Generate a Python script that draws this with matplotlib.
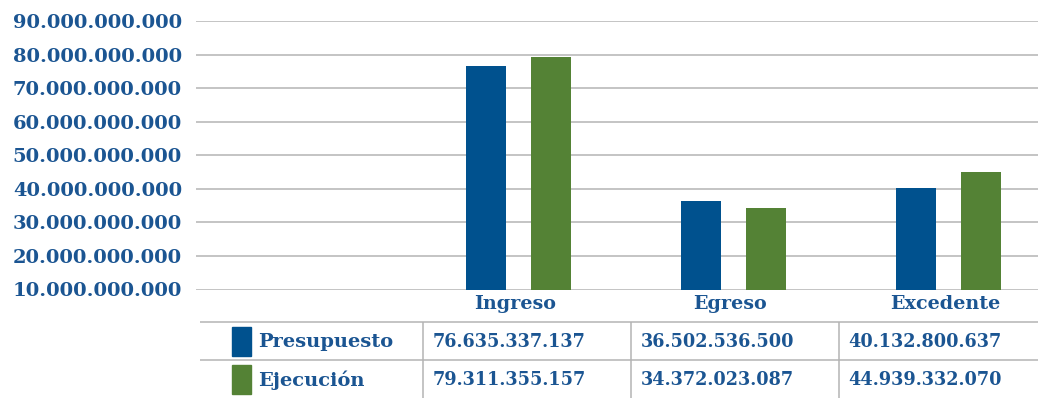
import numpy as np
import matplotlib
matplotlib.use('Agg')
import matplotlib.pyplot as plt
from matplotlib.patches import Rectangle

# data
categorias = ['Ingreso', 'Egreso', 'Excedente']
series = ['Presupuesto', 'Ejecución']
presupuesto = [76635337137, 36502536500, 40132800637]
ejecucion = [79311355157, 34372023087, 44939332070]
y_ticks = [10e9, 20e9, 30e9, 40e9, 50e9, 60e9, 70e9, 80e9, 90e9]

azul = '#00518e'
verde = '#548235'
texto = '#1b5592'
gris = '#b4b4b4'

plt.rcParams['font.family'] = ['DejaVu Serif']
plt.rcParams['font.weight'] = 'bold'

W, H = 1038, 398
fig = plt.figure(figsize=(W / 100, H / 100), dpi=100)

def miles(v):
    return f'{v:,.0f}'.replace(',', '.')

# chart area (first category slot is empty, last one runs past the right edge)
ax = fig.add_axes([196 / W, (H - 289.5) / H, 860 / W, (289.5 - 21) / H])
x = np.arange(1, len(categorias) + 1)
width = 0.186
off = 0.152
ax.bar(x - off, presupuesto, width, color=azul, zorder=3)
ax.bar(x + off, ejecucion, width, color=verde, zorder=3)
ax.set_xlim(-0.5, 3.5)
ax.set_ylim(10e9, 90e9)
ax.set_yticks(y_ticks)
ax.set_yticklabels([miles(v) for v in y_ticks], color=texto, fontsize=14)
ax.set_xticks(x - 0.015)
ax.set_xticklabels(categorias, color=texto, fontsize=13.8)
ax.tick_params(axis='y', length=0, pad=10)
ax.tick_params(axis='x', length=0, pad=4)
ax.yaxis.grid(True, color=gris, linewidth=1.1, zorder=0)
for s in ax.spines.values():
    s.set_visible(False)

# data table under the chart
tab = fig.add_axes([0, 0, 1, 1])
tab.set_xlim(0, W)
tab.set_ylim(H, 0)
tab.axis('off')
tab.hlines([322, 359.5], 200, W, color=gris, linewidth=1.1)
col_left = [422.7 + 208 * i for i in range(len(categorias))]
tab.vlines(col_left, 322, H, color=gris, linewidth=1.1)

row_y = [342, 380]
for nombre, color, vals, yc in zip(series, [azul, verde], [presupuesto, ejecucion], row_y):
    tab.add_patch(Rectangle((232, yc - 15), 19, 29, color=color))
    tab.text(258, yc, nombre, color=texto, fontsize=14, va='center', ha='left')
    for cx, v in zip(col_left, vals):
        tab.text(cx + 10, yc, miles(v), color=texto, fontsize=12.7, va='center', ha='left')

fig.savefig('out.png', dpi=100)
